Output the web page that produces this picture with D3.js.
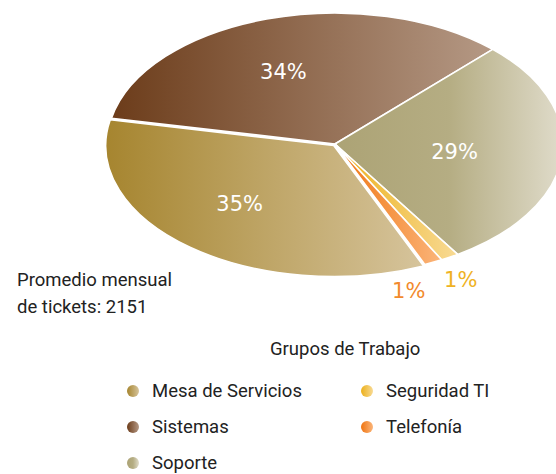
<!DOCTYPE html>
<html>
<head>
<meta charset="utf-8">
<script src="https://cdn.jsdelivr.net/npm/d3@7"></script>
<style>
  body { margin: 0; background: #fff; }
  text { font-family: Roboto, "Noto Sans", sans-serif; }
</style>
</head>
<body>
<svg id="chart"></svg>
<script>
// Datos: grupos de trabajo y su porcentaje de tickets
const categories = ['Mesa de Servicios', 'Sistemas', 'Soporte', 'Seguridad TI', 'Telefonía']
const values = [34.6, 34.0, 28.8, 1.3, 1.3]
const pctLabels = ['35%', '34%', '29%', '1%', '1%']
const gradStops = [
  [[0, '#a6852f'], [1, '#d6c49c']],
  [[0, '#6c3c1a'], [1, '#b59985']],
  [[0, '#aca375'], [0.5, '#b5ad83'], [1, '#e0dccb']],
  [[0, '#ecb01a'], [1, '#f8da94']],
  [[0, '#ef7410'], [1, '#fbb57a']]
]
const labelColors = ['#fff', '#fff', '#fff', '#efb224', '#f28a2c']
const legendTitle = 'Grupos de Trabajo'
const note = ['Promedio mensual', 'de tickets: 2151']

const width = 556
const height = 474
const cx = 335
const cy = 144
const rx = 228
const ry = 131
const startDeg = 156.8

const svg = d3.select('#chart')
  .attr('width', width)
  .attr('height', height)

// Gradientes horizontales por grupo
const defs = svg.append('defs')
gradStops.forEach((stops, i) => {
  const g = defs.append('linearGradient')
    .attr('id', 'grad' + i)
    .attr('x1', 0).attr('y1', 0)
    .attr('x2', 1).attr('y2', 0)
  stops.forEach(s => {
    g.append('stop').attr('offset', s[0]).attr('stop-color', s[1])
  })
})

const start = startDeg * Math.PI / 180
const pie = d3.pie()
  .sort(null)
  .startAngle(start)
  .endAngle(start + 2 * Math.PI)

const arcs = pie(values)
const arc = d3.arc().innerRadius(0).outerRadius(rx)

// Pastel eliptico: se dibuja en circulo y se aplana
const pieG = svg.append('g')
  .attr('transform', `translate(${cx},${cy}) scale(1,${ry / rx})`)

pieG.selectAll('path')
  .data(arcs)
  .join('path')
  .attr('d', arc)
  .attr('fill', (d, i) => `url(#grad${i})`)
  .attr('stroke', '#fff')
  .attr('stroke-width', 1.6)
  .attr('vector-effect', 'non-scaling-stroke')
  .attr('transform', (d, i) => {
    if (i !== 0) return null
    const mid = (d.startAngle + d.endAngle) / 2
    return `translate(${Math.sin(mid) * 2},${-Math.cos(mid) * 2 * rx / ry})`
  })

// Etiquetas de porcentaje
const labelDx = -12
const placed = []
arcs.forEach((d, i) => {
  const mid = (d.startAngle + d.endAngle) / 2
  const small = d.value < 3
  const f = small ? 1.2 : 0.58
  let x = cx + labelDx + Math.sin(mid) * rx * f
  let y = cy - Math.cos(mid) * ry * f
  if (small) {
    const prev = placed[placed.length - 1]
    if (prev && Math.abs(prev.x - x) < 40 && Math.abs(prev.y - y) < 22) {
      x = prev.x - 52
      y = prev.y + 11
    }
    placed.push({ x, y })
  }
  svg.append('text')
    .attr('x', x)
    .attr('y', y)
    .attr('dy', '0.36em')
    .attr('text-anchor', 'middle')
    .style('font-family', '"DejaVu Sans", sans-serif')
    .style('font-size', '21px')
    .attr('fill', labelColors[i])
    .text(pctLabels[i])
})

// Nota de promedio
svg.append('text')
  .attr('x', 17)
  .attr('y', 286)
  .style('font-size', '18.5px')
  .attr('fill', '#222')
  .selectAll('tspan')
  .data(note)
  .join('tspan')
  .attr('x', 17)
  .attr('dy', (d, i) => i === 0 ? 0 : 27)
  .text(d => d)

// Leyenda
svg.append('text')
  .attr('x', 270)
  .attr('y', 355)
  .style('font-size', '18.5px')
  .attr('fill', '#222')
  .text(legendTitle)

const legend = svg.append('g')
const item = legend.selectAll('g')
  .data(categories)
  .join('g')
  .attr('transform', (d, i) => {
    const col = i < 3 ? 0 : 1
    const row = i < 3 ? i : i - 3
    return `translate(${col === 0 ? 133 : 367},${391 + row * 36})`
  })

item.append('circle')
  .attr('r', 6)
  .attr('fill', (d, i) => `url(#grad${i})`)

item.append('text')
  .attr('x', 19)
  .attr('y', 6)
  .style('font-size', '18.5px')
  .attr('fill', '#222')
  .text(d => d)
</script>
</body>
</html>
